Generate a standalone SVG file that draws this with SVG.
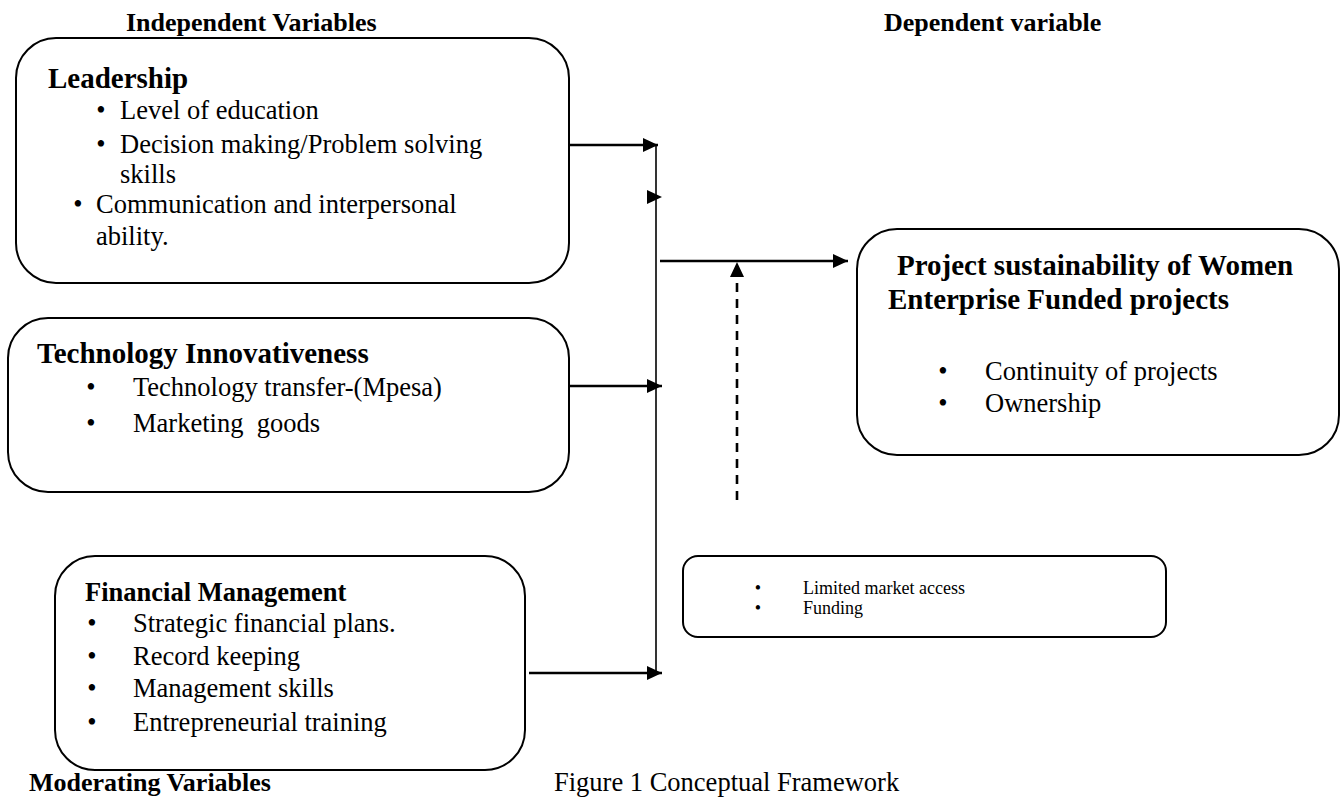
<svg xmlns="http://www.w3.org/2000/svg" width="1344" height="798" viewBox="0 0 1344 798">
<defs>
<style>
text{font-family:"Liberation Serif","Times New Roman",serif;fill:#000}
.hdr{font-size:26px;font-weight:bold}
.ttl{font-size:29px;font-weight:bold}
.ttl2{font-size:26.5px;font-weight:bold}
.body{font-size:26.5px}
.small{font-size:18px}
.bul{text-anchor:middle}
.box{fill:#fff;stroke:#000;stroke-width:2}
.arr{stroke:#000;stroke-width:2.6;fill:none;marker-end:url(#ah)}
.thin{stroke:#000;stroke-width:1.6;fill:none}
.dash{stroke:#000;stroke-width:2.6;fill:none;stroke-dasharray:9 7}
</style>
<marker id="ah" markerUnits="userSpaceOnUse" markerWidth="16" markerHeight="16" refX="15" refY="7" orient="auto">
<path d="M0,0 L15,7 L0,14 Z" fill="#000"/>
</marker>
</defs>
<rect width="1344" height="798" fill="#fff"/>

<g id="headers">
<text class="hdr" x="126" y="31">Independent Variables</text>
<text class="hdr" x="884" y="31">Dependent variable</text>
<text class="hdr" x="29" y="791">Moderating Variables</text>
<text class="body" x="554" y="791">Figure 1 Conceptual Framework</text>
</g>

<g id="connectors">
<line class="thin" x1="656" y1="145" x2="656" y2="673"/>
<line class="arr" x1="569" y1="145" x2="658" y2="145"/>
<path d="M647,190 L662,197 L647,204 Z" fill="#000"/>
<line class="arr" x1="569" y1="386" x2="662" y2="386"/>
<line class="arr" x1="529" y1="673" x2="662" y2="673"/>
<line class="arr" x1="660" y1="261" x2="848" y2="261"/>
<line class="dash" x1="737" y1="500" x2="737" y2="278"/>
<path d="M730,277 L737,262 L744,277 Z" fill="#000"/>
</g>

<g id="leadership">
<rect class="box" x="16" y="38" width="553" height="245" rx="40"/>
<text class="ttl" x="48" y="88">Leadership</text>
<text class="body bul" x="101" y="119">•</text>
<text class="body" x="120" y="119">Level of education</text>
<text class="body bul" x="101" y="153">•</text>
<text class="body" x="120" y="153">Decision making/Problem solving</text>
<text class="body" x="120" y="183">skills</text>
<text class="body bul" x="78" y="213">•</text>
<text class="body" x="96" y="213">Communication and interpersonal</text>
<text class="body" x="96" y="245">ability.</text>
</g>

<g id="technology">
<rect class="box" x="8" y="318" width="561" height="174" rx="40"/>
<text class="ttl" x="37" y="363">Technology Innovativeness</text>
<text class="body bul" x="91" y="396">•</text>
<text class="body" x="133" y="396">Technology transfer-(Mpesa)</text>
<text class="body bul" x="91" y="432">•</text>
<text class="body" x="133" y="432" xml:space="preserve">Marketing  goods</text>
</g>

<g id="financial">
<rect class="box" x="55" y="556" width="470" height="214" rx="40"/>
<text class="ttl2" x="85" y="601">Financial Management</text>
<text class="body bul" x="92" y="632">•</text>
<text class="body" x="133" y="632">Strategic financial plans.</text>
<text class="body bul" x="92" y="665">•</text>
<text class="body" x="133" y="665">Record keeping</text>
<text class="body bul" x="92" y="697">•</text>
<text class="body" x="133" y="697">Management skills</text>
<text class="body bul" x="92" y="731">•</text>
<text class="body" x="133" y="731">Entrepreneurial training</text>
</g>

<g id="project">
<rect class="box" x="857" y="229" width="482" height="226" rx="40"/>
<text class="ttl" x="897" y="275">Project sustainability of Women</text>
<text class="ttl" x="888" y="309">Enterprise Funded projects</text>
<text class="body bul" x="943" y="380">•</text>
<text class="body" x="985" y="380">Continuity of projects</text>
<text class="body bul" x="943" y="412">•</text>
<text class="body" x="985" y="412">Ownership</text>
</g>

<g id="moderating">
<rect class="box" x="683" y="556" width="483" height="81" rx="15"/>
<text class="small bul" x="758" y="594">•</text>
<text class="small" x="803" y="594">Limited market access</text>
<text class="small bul" x="758" y="614">•</text>
<text class="small" x="803" y="614">Funding</text>
</g>
</svg>
